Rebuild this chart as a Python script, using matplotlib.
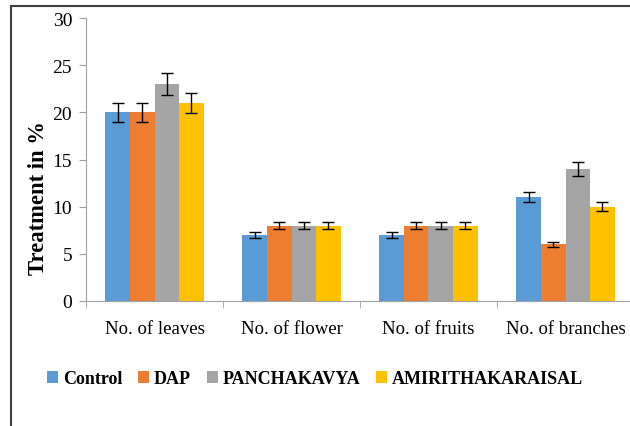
import matplotlib.pyplot as plt
import numpy as np
from matplotlib.lines import Line2D

plt.rcParams['font.family'] = ['Liberation Serif', 'DejaVu Serif']

categories = ['No. of leaves', 'No. of flower', 'No. of fruits', 'No. of branches']
series = ['Control', 'DAP', 'PANCHAKAVYA', 'AMIRITHAKARAISAL']
control = [20, 7, 7, 11]
dap = [20, 8, 8, 6]
panchakavya = [23, 8, 8, 14]
amirithakaraisal = [21, 8, 8, 10]
control_err = [1.0, 0.35, 0.35, 0.55]
dap_err = [1.0, 0.4, 0.4, 0.3]
panchakavya_err = [1.15, 0.4, 0.4, 0.7]
amirithakaraisal_err = [1.05, 0.4, 0.4, 0.5]
colors = ['#5B9BD5', '#ED7D31', '#A5A5A5', '#FFC000']

values = [control, dap, panchakavya, amirithakaraisal]
errors = [control_err, dap_err, panchakavya_err, amirithakaraisal_err]

fig = plt.figure(figsize=(6.3, 4.27), dpi=100)
ax = fig.add_axes([86 / 630, 1 - 302 / 427, 548 / 630, 283 / 427])

x = np.arange(len(categories))
w = 0.18
for i, (vals, errs) in enumerate(zip(values, errors)):
    pos = x + (i - 1.5) * w
    ax.bar(pos, vals, width=w, color=colors[i], label=series[i], zorder=2)
    ax.errorbar(pos, vals, yerr=errs, fmt='none', ecolor='black',
                elinewidth=1, capsize=4, capthick=1, zorder=3)

ax.set_xlim(-0.5, len(categories) - 0.5)
ax.set_ylim(0, 30)
ax.set_yticks(range(0, 31, 5))
ax.set_xticks(x)
ax.set_xticklabels(categories, fontsize=13.5)
ax.set_xticks(np.arange(-0.5, len(categories) + 0.5, 1), minor=True)
ax.tick_params(axis='x', which='major', length=0, pad=14)
ax.tick_params(axis='x', which='minor', length=5, color='#A0A0A0')
ax.tick_params(axis='y', length=5, color='#A0A0A0', labelsize=14, pad=5)

for s in ['top', 'right']:
    ax.spines[s].set_visible(False)
ax.spines['left'].set_color('#A0A0A0')
ax.spines['bottom'].set_color('#A0A0A0')

ax.set_ylabel('Treatment in %', fontsize=16.3, fontweight='bold')
ax.yaxis.set_label_coords(-0.068, 0.367)

fig.legend(loc='center', bbox_to_anchor=(0.5, 1 - 380 / 427), ncol=4,
           frameon=False, handlelength=0.6, handleheight=0.6,
           handletextpad=0.25, columnspacing=0.9,
           prop={'weight': 'bold', 'size': 13})

# outer frame
fig.add_artist(Line2D([11 / 630, 11 / 630], [0, 1 - 7 / 427], color='#404040', lw=1.5))
fig.add_artist(Line2D([11 / 630, 1], [1 - 7 / 427, 1 - 7 / 427], color='#404040', lw=1.5))

fig.savefig('out.png', dpi=100)
